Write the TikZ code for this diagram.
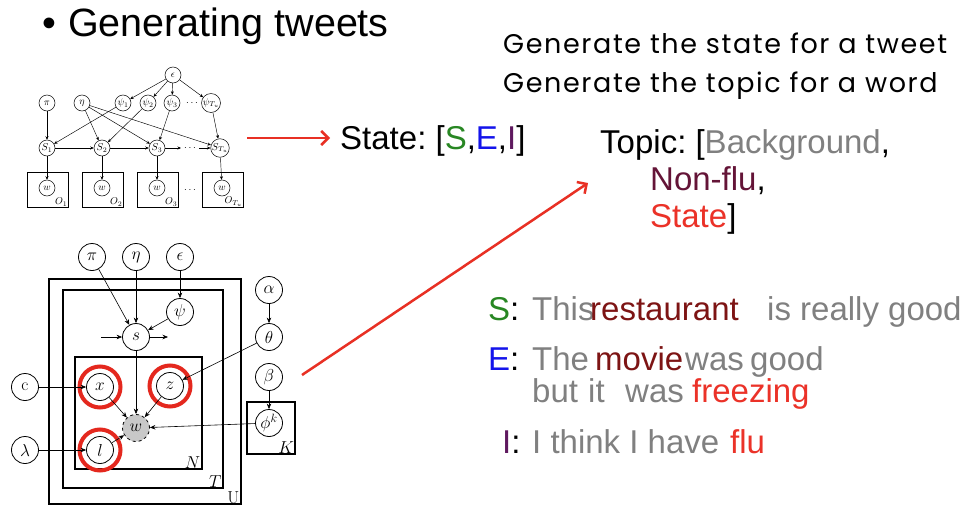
\documentclass[tikz,border=0pt]{standalone}
\usepackage{fontspec}
\newfontfamily\helv{Liberation Sans}
\newfontfamily\geo[LetterSpace=6]{Poppins}
\usetikzlibrary{arrows.meta}
\definecolor{redarr}{RGB}{232,48,36}
\definecolor{ringred}{RGB}{228,40,30}
\definecolor{sgreen}{RGB}{40,135,35}
\definecolor{eblue}{RGB}{20,20,235}
\definecolor{ipurple}{RGB}{95,25,95}
\definecolor{gtext}{RGB}{128,128,128}
\definecolor{wordmaroon}{RGB}{125,20,20}
\definecolor{nonflu}{RGB}{100,20,55}
\definecolor{fred}{RGB}{235,50,40}
\definecolor{wfill}{RGB}{200,200,200}
\frenchspacing
\begin{document}
\begin{tikzpicture}[x=1pt,y=-1pt,
  sv/.style={circle,draw,line width=0.5pt,minimum size=16pt,inner sep=0pt,font=\fontsize{10}{10}\selectfont},
  sa/.style={-{Stealth[length=3.5pt,width=3pt]},line width=0.45pt},
  splate/.style={draw,line width=0.9pt,minimum width=41pt,minimum height=35pt,inner sep=0pt},
  slab/.style={anchor=south east,inner sep=1pt,font=\fontsize{10}{10}\selectfont},
  bv/.style={circle,draw,line width=0.8pt,minimum size=27pt,inner sep=0pt,font=\fontsize{17.28}{17.28}\selectfont},
  ba/.style={-{Stealth[length=5.5pt,width=4.5pt]},line width=0.6pt},
  ring/.style={circle,draw=ringred,line width=4pt,minimum size=41pt,inner sep=0pt},
  redarrow/.style={draw=redarr,line width=2.5pt,-{Straight Barb[length=7pt,width=14pt]}},
  txt/.style={anchor=base west,inner sep=0pt,font=\helv\fontsize{33}{33}\selectfont\frenchspacing},
  gentxt/.style={anchor=base west,inner sep=0pt,font=\geo\fontsize{27}{27}\selectfont},
  blab/.style={anchor=south east,inner sep=1.5pt,font=\fontsize{17.28}{17.28}\selectfont}]
\useasboundingbox[fill=white] (0,0) rectangle (969,506);

% ---------- title ----------
\node[anchor=base west,inner sep=0pt,font=\helv\fontsize{39.5}{39.5}\selectfont] (bullet) at (42,36) {•};
\node[anchor=base west,inner sep=0pt,font=\helv\fontsize{39.5}{39.5}\selectfont] (title) at (68,36) {Generating tweets};

% ---------- small chain model ----------
\node[sv] (eps1) at (173,75) {$\epsilon$};
\node[sv] (pi1) at (47,103) {$\pi$};
\node[sv] (eta1) at (82,103) {$\eta$};
\node[sv] (psa) at (123,103) {$\psi_1$};
\node[sv] (psb) at (148,103) {$\psi_2$};
\node[sv] (psc) at (172,103) {$\psi_3$};
\node[inner sep=0pt,font=\fontsize{10}{10}\selectfont] (psdots) at (192,103) {$\cdots$};
\node[sv] (pst) at (211,103) {$\psi_{T_u}$};
\node[sv] (sta) at (47,148) {$S_1$};
\node[sv] (stb) at (102,148) {$S_2$};
\node[sv] (stc) at (157,148) {$S_3$};
\node[inner sep=0pt,font=\fontsize{10}{10}\selectfont] (stdots) at (190,148) {$\cdots$};
\node[sv] (stt) at (220,148) {$S_{T_u}$};
\coordinate (chainA) at (181,148);
\coordinate (chainB) at (199,148);

\node[splate] (oa) at (47.5,189.5) {};
\node[splate] (ob) at (102.5,189.5) {};
\node[splate] (oc) at (157.5,189.5) {};
\node[splate] (ot) at (222.5,189.5) {};
\node[slab] (oal) at (oa.south east) {$O_1$};
\node[slab] (obl) at (ob.south east) {$O_2$};
\node[slab] (ocl) at (oc.south east) {$O_3$};
\node[slab] (otl) at (ot.south east) {$O_{T_u}$};
\node[sv] (wa) at (47,188) {$w$};
\node[sv] (wb) at (102,188) {$w$};
\node[sv] (wc) at (157,188) {$w$};
\node[sv] (wt) at (222,188) {$w$};
\node[inner sep=0pt,font=\fontsize{10}{10}\selectfont] (odots) at (190,190) {$\cdots$};

\foreach \t in {psa,psb,psc,pst} \draw[sa] (eps1) -- (\t);
\draw[sa] (pi1) -- (sta);
\draw[sa] (eta1) -- (stb);
\draw[sa] (eta1) -- (stc);
\draw[sa] (eta1) -- (stt);
\draw[sa] (psa) -- (sta);
\draw[sa] (psb) -- (stb);
\draw[sa] (psc) -- (stc);
\draw[sa] (pst) -- (stt);
\draw[sa] (sta) -- (stb);
\draw[sa] (stb) -- (stc);
\draw[sa] (stc) -- (chainA);
\draw[sa] (chainB) -- (stt);
\draw[sa] (sta) -- (wa);
\draw[sa] (stb) -- (wb);
\draw[sa] (stc) -- (wc);
\draw[sa] (stt) -- (wt);

% ---------- plate model ----------
\draw[line width=2.5pt] (49,279) rectangle (241,504);
\draw[line width=2.5pt] (63,290) rectangle (223,488);
\draw[line width=1.5pt] (75,357) rectangle (202,469);
\node[draw,line width=1.5pt,minimum width=48pt,minimum height=52pt,inner sep=0pt] (kplate) at (271,428) {};
\node[blab] (ulab) at (241,505) {U};
\node[blab] (tlab) at (223,489) {$T$};
\node[blab] (nlab) at (202,470) {$N$};
\node[blab] (klab) at (kplate.south east) {$K$};

\node[bv] (pi2) at (92,257) {$\pi$};
\node[bv] (eta2) at (136,257) {$\eta$};
\node[bv] (eps2) at (180,257) {$\epsilon$};
\node[bv] (alpha) at (269,290) {$\alpha$};
\node[bv] (psi) at (180,312) {$\psi$};
\node[bv] (s) at (136,337) {$s$};
\node[bv] (theta) at (269,337) {$\theta$};
\node[bv] (beta) at (269,377) {$\beta$};
\node[bv] (phi) at (269,423) {$\phi^k$};
\node[bv] (c) at (25,387) {c};
\node[bv] (x) at (100,387) {$x$};
\node[bv] (z) at (170,386) {$z$};
\node[bv,fill=wfill,dashed] (w) at (136,428) {$w$};
\node[bv] (lambda) at (25,450) {$\lambda$};
\node[bv] (l) at (100,450) {$l$};
\coordinate (sin) at (101,337);
\coordinate (sout) at (168,337);

\node[ring] (ringx) at (x) {};
\node[ring] (ringz) at (z) {};
\node[ring] (ringl) at (l) {};

\draw[ba] (pi2) -- (s);
\draw[ba] (eta2) -- (s);
\draw[ba] (eps2) -- (psi);
\draw[ba] (psi) -- (s);
\draw[ba] (sin) -- (s);
\draw[ba] (s) -- (sout);
\draw[ba] (s) -- (w);
\draw[ba] (alpha) -- (theta);
\draw[ba] (theta) -- (z);
\draw[ba] (beta) -- (phi);
\draw[ba] (phi) -- (w);
\draw[ba] (c) -- (x);
\draw[ba] (lambda) -- (l);
\draw[ba] (x) -- (w);
\draw[ba] (z) -- (w);
\draw[ba] (l) -- (w);

% ---------- right-hand text ----------
\node[gentxt] (gen1) at (503,53) {Generate the state for a tweet};
\node[gentxt] (gen2) at (503,92) {Generate the topic for a word};

\node[txt] (state) at (340,149) {State: [\textcolor{sgreen}{S},\textcolor{eblue}{E},\textcolor{ipurple}{I}]};
\node[txt] (topic) at (600,153) {Topic: [\textcolor{gtext}{Background},};
\node[txt] (nonflu) at (650,190) {\textcolor{nonflu}{Non-flu},};
\node[txt] (stateT) at (650,227) {\textcolor{fred}{State}]};

\coordinate (arrAstart) at (247,138);
\coordinate (arrAend) at (330,138);
\coordinate (arrBstart) at (302,375);
\coordinate (arrBend) at (588,183);
\draw[redarrow] (arrAstart) -- (arrAend);
\draw[redarrow] (arrBstart) -- (arrBend);

% example tweets
\node[txt] (sl) at (488,320) {\textcolor{sgreen}{S}:};
\node[txt,text=gtext] (s1) at (532,320) {This};
\node[txt,text=wordmaroon] (s2) at (590,320) {restaurant};
\node[txt,text=gtext] (s3) at (767,320) {is really good};

\node[txt] (el) at (488,370) {\textcolor{eblue}{E}:};
\node[txt,text=gtext] (e1) at (532,370) {The};
\node[txt,text=wordmaroon] (e2) at (595,370) {movie};
\node[txt,text=gtext] (e3) at (685,370) {was};
\node[txt,text=gtext] (e4) at (750,370) {good};
\node[txt,text=gtext] (e5) at (532,402) {but};
\node[txt,text=gtext] (e6) at (588,402) {it};
\node[txt,text=gtext] (e7) at (625,402) {was};
\node[txt,text=fred] (e8) at (692,402) {freezing};

\node[txt] (il) at (502,453) {\textcolor{ipurple}{I}:};
\node[txt,text=gtext] (i1) at (532,453) {I think I have};
\node[txt,text=fred] (i2) at (730,453) {flu};
\end{tikzpicture}
\end{document}
